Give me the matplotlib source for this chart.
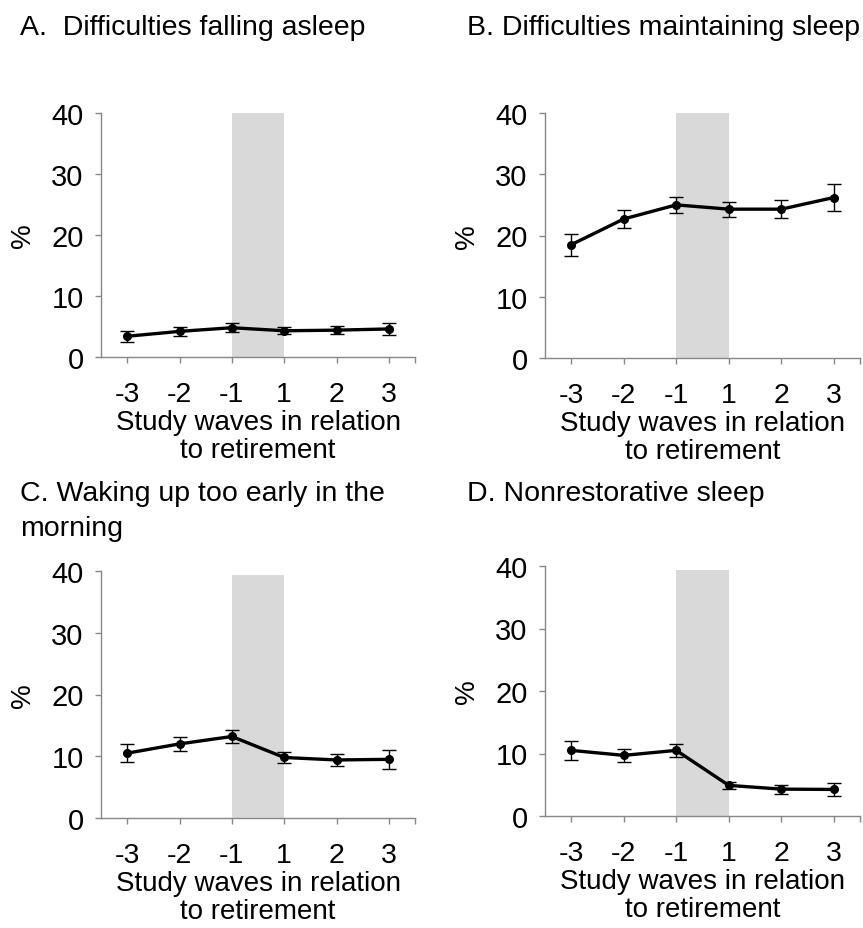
import matplotlib
matplotlib.use("Agg")
import matplotlib.pyplot as plt

plt.rcParams['font.family'] = ['Liberation Sans', 'DejaVu Sans']

waves = ['-3', '-2', '-1', '1', '2', '3']

titles = ['A.  Difficulties falling asleep',
          'B. Difficulties maintaining sleep',
          'C. Waking up too early in the\nmorning',
          'D. Nonrestorative sleep']

vals_a = [3.4, 4.2, 4.8, 4.3, 4.4, 4.6]
err_a = [0.9, 0.7, 0.7, 0.6, 0.7, 1.0]
vals_b = [18.5, 22.7, 25.0, 24.3, 24.3, 26.2]
err_b = [1.8, 1.4, 1.3, 1.2, 1.5, 2.2]
vals_c = [10.5, 12.0, 13.2, 9.8, 9.4, 9.5]
err_c = [1.45, 1.1, 1.05, 0.9, 1.0, 1.5]
vals_d = [10.5, 9.7, 10.5, 4.9, 4.3, 4.25]
err_d = [1.55, 1.05, 1.0, 0.6, 0.7, 1.0]

yticks = [0, 10, 20, 30, 40]
shade_top = [40, 40, 39.4, 39.4]
xlabel = 'Study waves in relation\nto retirement'

W, H = 863, 929
fig = plt.figure(figsize=(W / 100, H / 100), dpi=100)

# axes boxes in pixels: left, top, right, bottom
boxes = [(101, 114, 415, 358),
         (545, 114, 860, 359),
         (101, 572, 415, 819),
         (545, 567, 860, 817)]
title_pos = [(20, 28), (467, 28), (20, 481), (467, 481)]

series = [(vals_a, err_a), (vals_b, err_b), (vals_c, err_c), (vals_d, err_d)]
spine_col = '#888888'

for i, ((l, t, r, b), (v, e)) in enumerate(zip(boxes, series)):
    ax = fig.add_axes([l / W, 1 - b / H, (r - l) / W, (b - t) / H])
    x = list(range(len(waves)))
    ax.axvspan(2, 3, ymin=0, ymax=shade_top[i] / 40, color='#d9d9d9', lw=0, zorder=0)
    ax.errorbar(x, v, yerr=e, color='black', lw=2.4, marker='o', ms=5.5,
                ecolor='black', elinewidth=1.0, capsize=5, capthick=1.0, zorder=3)
    ax.set_xlim(-0.5, 5.5)
    ax.set_ylim(0, 40)
    ax.set_yticks(yticks)
    ax.set_yticklabels([str(y) for y in yticks], fontsize=21)
    ax.set_xticks(x + [5.5])
    ax.set_xticklabels(waves + [''], fontsize=20.5)
    for s in ['top', 'right']:
        ax.spines[s].set_visible(False)
    for s in ['left', 'bottom']:
        ax.spines[s].set_color(spine_col)
        ax.spines[s].set_linewidth(1.0)
    ax.tick_params(axis='both', direction='out', length=4.5, width=1.0, color=spine_col)
    ax.tick_params(axis='y', pad=8)
    ax.tick_params(axis='x', pad=12.5)
    ax.set_ylabel('%', fontsize=20, labelpad=11)
    ax.set_xlabel(xlabel, fontsize=20, linespacing=1.08, labelpad=2)
    tx, ty = title_pos[i]
    fig.text(tx / W, 1 - ty / H, titles[i], fontsize=20.5, ha='left',
             va='center' if i < 2 else 'top', linespacing=1.45)

fig.savefig('out.png', dpi=100)
